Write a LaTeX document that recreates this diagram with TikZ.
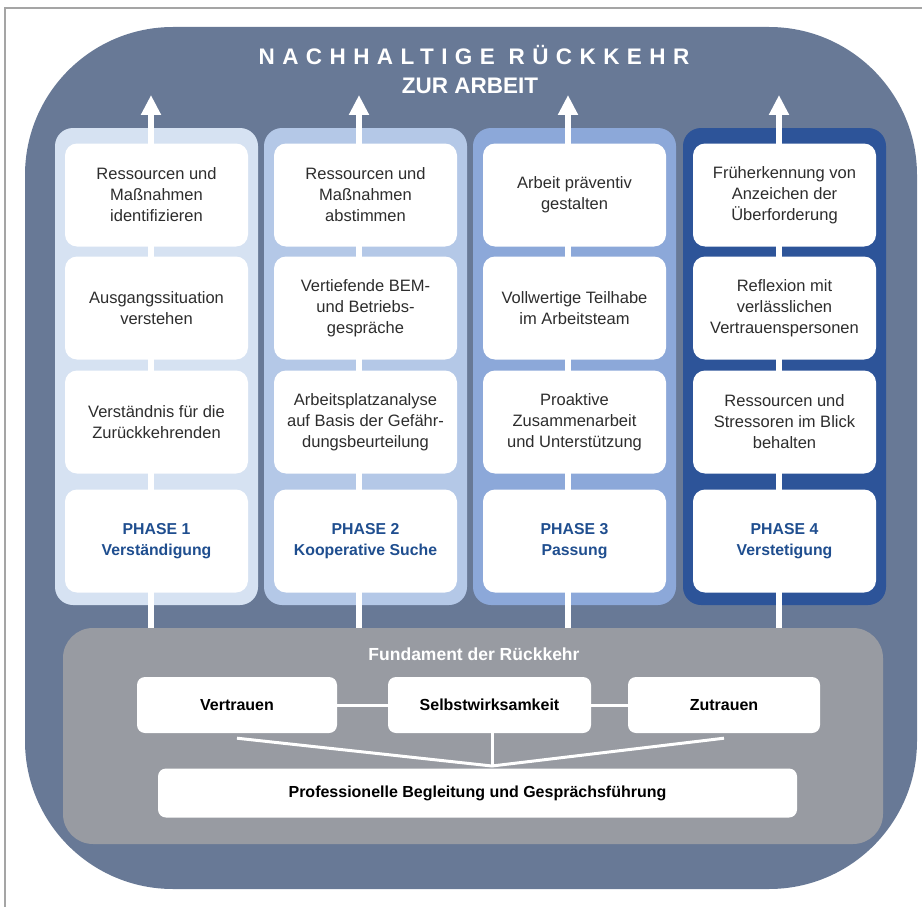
\documentclass[tikz,border=0pt]{standalone}
\usepackage{fontspec}
\setmainfont{Liberation Sans}
\newfontfamily\spacedfont[LetterSpace=33]{Liberation Sans}
\usetikzlibrary{arrows.meta}

\definecolor{outerblue}{RGB}{104,121,150}
\definecolor{phaseone}{RGB}{214,226,242}
\definecolor{phasetwo}{RGB}{180,200,231}
\definecolor{phasethree}{RGB}{140,168,217}
\definecolor{phasefour}{RGB}{45,84,153}
\definecolor{fundgrey}{RGB}{152,155,162}
\definecolor{phasetext}{RGB}{31,78,143}
\definecolor{bodytext}{RGB}{45,45,45}
\definecolor{framegrey}{RGB}{165,165,165}

\tikzset{
  column/.style={rounded corners=18pt},
  stepbox/.style={fill=white, rounded corners=12pt, minimum width=183pt, minimum height=103pt,
    inner sep=0pt, align=center, text=bodytext, font=\fontsize{16.5}{21}\selectfont},
  phasebox/.style={stepbox, text=phasetext, font=\fontsize{15.8}{21}\selectfont\bfseries},
  basebox/.style={fill=white, rounded corners=8pt, minimum height=56pt, inner sep=0pt,
    text=black, font=\fontsize{16}{19}\selectfont\bfseries},
  shaft/.style={white, line width=6pt, -{Triangle[width=19pt,length=20pt]}},
  link/.style={white, line width=3pt}
}

\begin{document}
\begin{tikzpicture}[x=1pt, y=-1pt]
  \useasboundingbox (0,0) rectangle (922,907);

  % frame and background
  \draw[framegrey, line width=1.5pt] (5,907) -- (5,8) -- (922,8);
  \fill[outerblue, rounded corners=148pt] (25,27) rectangle (917,889);

  % title
  \node[white, anchor=base, font={\fontsize{22.5}{26}\spacedfont\bfseries}] (title) at (474,65) {NACHHALTIGE RÜCKKEHR};
  \node[white, anchor=base, font={\fontsize{22.5}{26}\selectfont\bfseries}] (subtitle) at (470,94) {ZUR ARBEIT};

  % phase columns
  \fill[phaseone, column] (55,128) rectangle (258,605);
  \fill[phasetwo, column] (264,128) rectangle (467,605);
  \fill[phasethree, column] (473,128) rectangle (676,605);
  \fill[phasefour, column] (683,128) rectangle (886,605);

  % arrows through the columns
  \coordinate (foot1) at (151,628); \coordinate (tip1) at (151,95);
  \coordinate (foot2) at (359,628); \coordinate (tip2) at (359,95);
  \coordinate (foot3) at (568,628); \coordinate (tip3) at (568,95);
  \coordinate (foot4) at (779,628); \coordinate (tip4) at (779,95);
  \draw[shaft] (foot1) -- (tip1);
  \draw[shaft] (foot2) -- (tip2);
  \draw[shaft] (foot3) -- (tip3);
  \draw[shaft] (foot4) -- (tip4);

  % Phase 1
  \node[stepbox] (ident) at (156.5,195) {Ressourcen und\\Maßnahmen\\identifizieren};
  \node[stepbox] (ausgang) at (156.5,308) {Ausgangssituation\\verstehen};
  \node[stepbox] (verst) at (156.5,422) {Verständnis für die\\Zurückkehrenden};
  \node[phasebox] (phase1) at (156.5,541) {PHASE 1\\Verständigung};

  % Phase 2
  \node[stepbox] (abstimm) at (365.5,195) {Ressourcen und\\Maßnahmen\\abstimmen};
  \node[stepbox] (bem) at (365.5,308) {Vertiefende BEM-\\und Betriebs-\\gespräche};
  \node[stepbox] (analyse) at (365.5,422) {Arbeitsplatzanalyse\\auf Basis der Gefähr-\\dungsbeurteilung};
  \node[phasebox] (phase2) at (365.5,541) {PHASE 2\\Kooperative Suche};

  % Phase 3
  \node[stepbox] (praev) at (574.5,195) {Arbeit präventiv\\gestalten};
  \node[stepbox] (teilhabe) at (574.5,308) {Vollwertige Teilhabe\\im Arbeitsteam};
  \node[stepbox] (proaktiv) at (574.5,422) {Proaktive\\Zusammenarbeit\\und Unterstützung};
  \node[phasebox] (phase3) at (574.5,541) {PHASE 3\\Passung};

  % Phase 4
  \node[stepbox] (frueh) at (784.5,195) {Früherkennung von\\Anzeichen der\\Überforderung};
  \node[stepbox] (reflex) at (784.5,308) {Reflexion mit\\verlässlichen\\Vertrauenspersonen};
  \node[stepbox] (stress) at (784.5,422) {Ressourcen und\\Stressoren im Blick\\behalten};
  \node[phasebox] (phase4) at (784.5,541) {PHASE 4\\Verstetigung};

  % foundation
  \fill[fundgrey, rounded corners=30pt] (63,628) rectangle (883,844);
  \node[white, anchor=base, font=\fontsize{17.5}{20}\selectfont\bfseries] (fundament) at (474,660) {Fundament der Rückkehr};

  \node[basebox, minimum width=200pt] (vertrauen) at (237,705) {Vertrauen};
  \node[basebox, minimum width=203pt] (selbst) at (489.5,705) {Selbstwirksamkeit};
  \node[basebox, minimum width=192pt] (zutrauen) at (724,705) {Zutrauen};
  \node[basebox, minimum width=639pt, minimum height=49pt] (begleitung) at (477.5,793) {Professionelle Begleitung und Gesprächsführung};

  \coordinate (join) at (492,766);
  \draw[link] (vertrauen) -- (selbst);
  \draw[link] (selbst) -- (zutrauen);
  \draw[link] ([yshift=-5pt]vertrauen.south) -- (join) -- ([yshift=-5pt]zutrauen.south);
  \draw[link] (selbst.south -| join) -- (join);
\end{tikzpicture}
\end{document}
